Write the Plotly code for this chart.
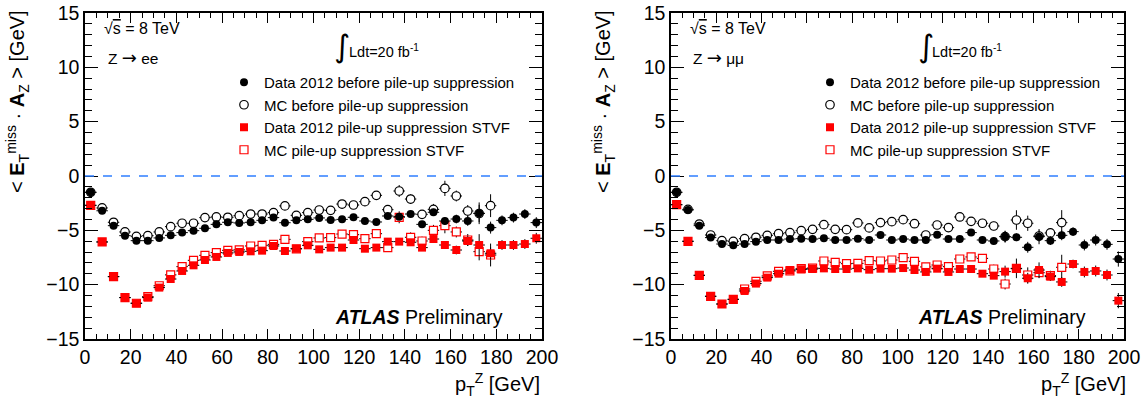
import plotly.graph_objects as go

# pT(Z) bin centres, 5 GeV bins from 0 to 200 GeV
pt = [2.5 + 5 * i for i in range(40)]

# ---------------- Z -> ee ----------------
ee_data_before = [-1.5, -3.2, -4.57, -5.49, -5.95, -5.95, -5.7, -5.46, -5.21, -5.03,
                  -4.81, -4.45, -4.26, -4.32, -4.26, -4.08, -3.83, -4.3, -4.08, -3.99,
                  -3.86, -4.05, -3.99, -3.8, -4.14, -4.23, -3.68, -3.74, -3.5, -4.45,
                  -3.34, -4.14, -3.96, -4.14, -3.43, -4.75, -4.08, -3.83, -3.5, -4.29]
ee_data_before_err = [0.05, 0.05, 0.05, 0.05, 0.05, 0.05, 0.05, 0.06, 0.06, 0.07,
                      0.08, 0.08, 0.09, 0.1, 0.1, 0.11, 0.12, 0.13, 0.14, 0.15,
                      0.16, 0.17, 0.18, 0.19, 0.2, 0.22, 0.24, 0.26, 0.28, 0.3,
                      0.32, 0.35, 0.4, 0.45, 1.0, 0.55, 0.45, 0.45, 0.45, 0.5]
ee_mc_before = [-1.5, -2.94, -4.26, -5.15, -5.55, -5.49, -5.15, -4.66, -4.35, -4.35,
                -3.83, -3.77, -3.8, -3.65, -3.5, -3.5, -3.37, -2.75, -3.62, -3.37,
                -3.13, -3.16, -2.58, -2.67, -2.36, -1.78, -3.1, -1.38, -2.12, -3.53,
                -3.07, -1.14, -1.84, -3.22, -3.45, -2.73]
ee_mc_before_err = [0.05, 0.05, 0.05, 0.05, 0.05, 0.05, 0.06, 0.06, 0.07, 0.08,
                    0.09, 0.1, 0.1, 0.11, 0.12, 0.13, 0.14, 0.16, 0.17, 0.18,
                    0.2, 0.21, 0.22, 0.24, 0.26, 0.3, 0.33, 0.55, 0.45, 0.4,
                    0.5, 0.7, 0.5, 0.55, 0.8, 1.05]
ee_data_stvf = [-2.7, -6.07, -9.26, -11.19, -11.71, -11.19, -10.27, -9.48, -8.74, -8.22,
                -7.73, -7.45, -7.08, -6.99, -6.93, -6.87, -6.44, -6.9, -6.69, -6.38,
                -6.75, -6.59, -6.59, -5.89, -6.69, -6.59, -6.04, -6.04, -6.1, -6.59,
                -5.8, -6.35, -6.81, -5.98, -6.35, -7.11, -6.35, -6.35, -6.26, -5.73]
ee_data_stvf_err = ee_data_before_err
ee_mc_stvf = [-2.7, -6.07, -9.26, -11.19, -11.71, -11.1, -10.1, -9.1, -8.34, -7.76,
              -7.3, -7.05, -6.84, -6.8, -6.44, -6.38, -6.29, -5.83, -6.7, -6.04,
              -5.7, -5.67, -5.34, -5.4, -5.77, -5.31, -6.59, -3.8, -5.64, -5.98,
              -5.0, -4.57, -5.15, -5.89, -6.96, -7.27]
ee_mc_stvf_err = ee_mc_before_err

# ---------------- Z -> mumu ----------------
mm_data_before = [-1.5, -3.13, -4.57, -5.67, -6.26, -6.38, -6.26, -6.04, -5.89, -5.89,
                  -5.8, -5.77, -5.8, -5.73, -5.89, -5.89, -5.77, -5.89, -5.43, -5.89,
                  -5.8, -5.89, -5.89, -5.4, -5.8, -5.8, -5.21, -5.89, -5.98, -5.58,
                  -5.64, -6.56, -5.58, -5.95, -5.46, -5.12, -6.35, -5.89, -6.29, -7.64]
mm_data_before_err = [0.04, 0.04, 0.04, 0.04, 0.04, 0.04, 0.05, 0.05, 0.05, 0.06,
                      0.06, 0.07, 0.08, 0.08, 0.09, 0.1, 0.11, 0.12, 0.13, 0.14,
                      0.15, 0.16, 0.17, 0.18, 0.2, 0.22, 0.24, 0.26, 0.3, 0.55,
                      0.35, 0.5, 0.7, 0.4, 0.45, 0.4, 0.5, 0.5, 0.5, 0.7]
mm_mc_before = [-1.5, -3.07, -4.42, -5.43, -5.95, -6.01, -5.77, -5.64, -5.46, -5.31,
                -5.21, -5.03, -4.91, -4.48, -4.91, -4.94, -4.32, -4.78, -4.29, -4.2,
                -4.02, -4.39, -5.43, -4.51, -4.75, -3.77, -4.17, -4.35, -4.6, -5.58,
                -4.05, -4.35, -5.52, -5.24, -4.29]
mm_mc_before_err = [0.04, 0.04, 0.04, 0.04, 0.04, 0.05, 0.05, 0.05, 0.06, 0.07,
                    0.08, 0.09, 0.1, 0.11, 0.12, 0.13, 0.14, 0.15, 0.17, 0.19,
                    0.2, 0.22, 0.24, 0.3, 0.3, 0.35, 0.35, 0.4, 0.4, 0.5,
                    0.9, 0.7, 0.5, 0.45, 1.15]
mm_data_stvf = [-2.64, -6.01, -9.14, -11.07, -11.78, -11.35, -10.58, -9.9, -9.35, -8.99,
                -8.65, -8.59, -8.56, -8.5, -8.56, -8.56, -8.5, -8.62, -8.53, -8.53,
                -8.47, -8.65, -8.83, -8.53, -8.83, -8.56, -8.56, -8.99, -9.17, -8.8,
                -8.53, -9.41, -8.65, -9.26, -9.75, -8.1, -8.83, -8.74, -9.11, -11.47]
mm_data_stvf_err = mm_data_before_err
mm_mc_stvf = [-2.64, -6.01, -9.14, -11.07, -11.78, -11.35, -10.4, -9.69, -9.2, -8.77,
              -8.74, -8.53, -8.47, -7.82, -7.94, -8.07, -8.04, -7.79, -7.82, -7.73,
              -7.52, -7.85, -8.37, -8.19, -8.34, -7.64, -7.45, -7.58, -8.56, -9.94,
              -8.5, -9.11, -8.9, -9.17, -8.4]
mm_mc_stvf_err = mm_mc_before_err

legend_names = ["Data 2012 before pile-up suppression",
                "MC before pile-up suppression",
                "Data 2012 pile-up suppression STVF",
                "MC pile-up suppression STVF"]

FONT = "Liberation Sans, Arial, Helvetica, sans-serif"
RED = "#ff0000"

# hollow markers get a white fill so the error bars stay outside them
styles = [
    dict(symbol="circle", color="black", size=8, line=dict(width=0, color="black")),
    dict(symbol="circle", color="white", size=8.5, line=dict(width=1.2, color="black")),
    dict(symbol="square", color=RED, size=8, line=dict(width=0, color=RED)),
    dict(symbol="square", color="white", size=8, line=dict(width=1.2, color=RED)),
]
# simulation drawn first, data on top; legend keeps the original order
draw_order = [1, 3, 0, 2]

fig = go.Figure()

panels = [
    ("x", "y", "legend", [ee_data_before, ee_mc_before, ee_data_stvf, ee_mc_stvf],
     [ee_data_before_err, ee_mc_before_err, ee_data_stvf_err, ee_mc_stvf_err]),
    ("x2", "y2", "legend2", [mm_data_before, mm_mc_before, mm_data_stvf, mm_mc_stvf],
     [mm_data_before_err, mm_mc_before_err, mm_data_stvf_err, mm_mc_stvf_err]),
]

for xa, ya, leg, series, errors in panels:
    for k in draw_order:
        vals, errs, st = series[k], errors[k], styles[k]
        n = len(vals)
        fig.add_trace(go.Scatter(
            x=pt[:n], y=vals, mode="markers", name=legend_names[k],
            xaxis=xa, yaxis=ya, legend=leg, legendrank=k + 1,
            marker=st,
            error_x=dict(type="constant", value=2.5, thickness=1, width=0, color="black"),
            error_y=dict(type="data", array=errs[:n], thickness=1, width=0, color="black"),
        ))

W, H = 1146, 400
L1, R1 = 85, 542
L2, R2 = 671, 1124
TOP, BOT = 13, 339


def axis_common():
    return dict(showline=True, linecolor="black", linewidth=1.5, mirror="allticks",
                ticks="inside", tickcolor="black", tickwidth=1,
                showgrid=False, zeroline=False,
                tickfont=dict(family=FONT, size=19.5, color="black"))


xcommon = axis_common()
xcommon.update(range=[0, 200], dtick=20, tick0=0, ticklen=10,
               minor=dict(ticks="inside", dtick=5, ticklen=5, tickcolor="black", showgrid=False))
ycommon = axis_common()
ycommon.update(range=[-15, 15], dtick=5, tick0=0, ticklen=13,
               minor=dict(ticks="inside", dtick=1, ticklen=7, tickcolor="black", showgrid=False))

fig.update_layout(
    width=W, height=H,
    margin=dict(l=0, r=0, t=0, b=0, autoexpand=False),
    paper_bgcolor="white", plot_bgcolor="white",
    xaxis=dict(domain=[L1 / W, R1 / W], anchor="y", **xcommon),
    yaxis=dict(domain=[1 - BOT / H, 1 - TOP / H], anchor="x", **ycommon),
    xaxis2=dict(domain=[L2 / W, R2 / W], anchor="y2", **xcommon),
    yaxis2=dict(domain=[1 - BOT / H, 1 - TOP / H], anchor="x2", **ycommon),
    font=dict(family=FONT, color="black"),
)

leg_style = dict(font=dict(family=FONT, size=15, color="black"),
                 bgcolor="rgba(0,0,0,0)", borderwidth=0,
                 xanchor="left", yanchor="top", tracegroupgap=0, itemwidth=30)
fig.update_layout(
    legend=dict(x=224 / W, y=1 - 66 / H, **leg_style),
    legend2=dict(x=(224 + L2 - L1) / W, y=1 - 66 / H, **leg_style),
)

ARROW = '<span style="font-family:DejaVu Sans;font-size:18px">→</span>'
SQRT_S = '√<span style="text-decoration:overline">s</span> = 8 TeV'

annotations = []
shapes = []
for xa, ya, xl, ch in [("x", "y", L1, "Z " + ARROW + " ee"), ("x2", "y2", L2, "Z " + ARROW + " μμ")]:
    # reference line at zero
    shapes.append(dict(type="line", xref=xa, yref=ya, x0=0, x1=200, y0=0, y1=0,
                       line=dict(color="#2f7fff", width=1.5, dash="dash")))
    annotations += [
        dict(xref=xa, yref=ya, x=7.5, y=13.6, xanchor="left", yanchor="middle",
             text=SQRT_S, showarrow=False, font=dict(family=FONT, size=16)),
        dict(xref=xa, yref=ya, x=9.0, y=10.9, xanchor="left", yanchor="middle",
             text=ch, showarrow=False, font=dict(family=FONT, size=15.5)),
        dict(xref=xa, yref=ya, x=112.5, y=12.0, xanchor="center", yanchor="middle",
             text="∫", showarrow=False, font=dict(family="DejaVu Sans", size=31)),
        dict(xref=xa, yref=ya, x=114.5, y=11.5, xanchor="left", yanchor="middle",
             text="Ldt=20 fb<sup>-1</sup>", showarrow=False, font=dict(family=FONT, size=14.5)),
        dict(xref=xa, yref=ya, x=184, y=-13.0, xanchor="right", yanchor="middle",
             text="<b><i>ATLAS</i></b> Preliminary", showarrow=False,
             font=dict(family=FONT, size=19.5)),
        dict(xref="paper", yref="paper", x=(xl + 457) / W, y=1 - 384 / H,
             xanchor="right", yanchor="middle",
             text="p<sub>T</sub><sup>Z</sup> [GeV]", showarrow=False,
             font=dict(family=FONT, size=20)),
        dict(xref="paper", yref="paper", x=(xl - 68) / W, y=1 - 102 / H,
             xanchor="center", yanchor="middle", textangle=-90,
             text="< <b>E</b><sub>T</sub><sup>miss</sup> · <b>A</b><sub>Z</sub> > [GeV]",
             showarrow=False, font=dict(family=FONT, size=20)),
    ]

fig.update_layout(annotations=annotations, shapes=shapes)

fig.write_html("out.html")
